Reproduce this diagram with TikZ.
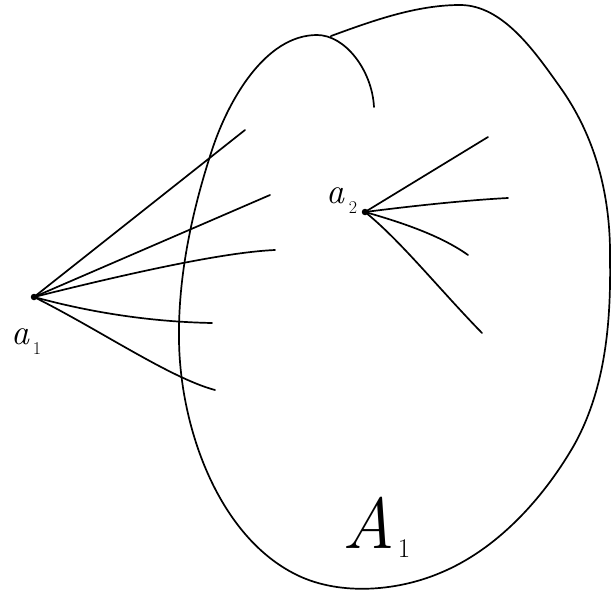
\documentclass[tikz,border=0pt]{standalone}
\begin{document}
\begin{tikzpicture}[x=1pt,y=-1pt,line cap=round,line join=round,
  ink/.style={line width=1.7pt,black},
  dotnode/.style={circle,fill=black,inner sep=0pt,minimum size=6.5pt},
  letter/.style={inner sep=0pt,font=\fontsize{36}{36}\selectfont\itshape},
  bigletter/.style={inner sep=0pt,font=\fontsize{72}{72}\selectfont\itshape},
  index/.style={inner sep=0pt,font=\fontsize{18}{18}\selectfont},
  bigindex/.style={inner sep=0pt,font=\fontsize{27}{27}\selectfont}]
\useasboundingbox (0,0) rectangle (612,591);
% outline of the set A_1
\draw[ink] (374,107) .. controls (372,70) and (345,35) .. (317,35)
  .. controls (265,35) and (228,101) .. (212,150)
  .. controls (192,211) and (178,276) .. (179,340)
  .. controls (180,426) and (217,533) .. (293,573)
  .. controls (336,596) and (395,592) .. (440,573)
  .. controls (496,550) and (542,500) .. (573,447)
  .. controls (605,391) and (611,324) .. (610,260)
  .. controls (611,195) and (595,136) .. (560,87)
  .. controls (535,52) and (503,5) .. (460,5)
  .. controls (416,5) and (372,21) .. (331,36);
% points
\node[dotnode] (a1) at (34,297) {};
\node[dotnode] (a2) at (365,212) {};
% labels
\node[letter] (la1) at (20,337) {a};
\node[index] (la1i) at (37,349) {1};
\node[letter] (la2) at (335,196) {a};
\node[index] (la2i) at (353,208) {2};
\node[bigletter] (A1) at (369,523) {A};
\node[bigindex] (A1i) at (404,549) {1};
% end points of the rays
\coordinate (e1) at (245,130);
\coordinate (e2) at (270,195);
\coordinate (e3) at (275,250);
\coordinate (e4) at (212,323);
\coordinate (e5) at (215,390);
\coordinate (f1) at (488,137);
\coordinate (f2) at (508,198);
\coordinate (f3) at (468,255);
\coordinate (f4) at (482,333);
% rays from a_1
\draw[ink] (a1.center) -- (e1);
\draw[ink] (a1.center) -- (e2);
\draw[ink] (a1.center) .. controls (150,268) and (230,252) .. (e3);
\draw[ink] (a1.center) .. controls (100,315) and (160,322) .. (e4);
\draw[ink] (a1.center) .. controls (100,330) and (170,378) .. (e5);
% rays from a_2
\draw[ink] (a2.center) -- (f1);
\draw[ink] (a2.center) .. controls (420,205) and (470,200) .. (f2);
\draw[ink] (a2.center) .. controls (400,222) and (440,235) .. (f3);
\draw[ink] (a2.center) .. controls (400,240) and (440,290) .. (f4);
\end{tikzpicture}
\end{document}
